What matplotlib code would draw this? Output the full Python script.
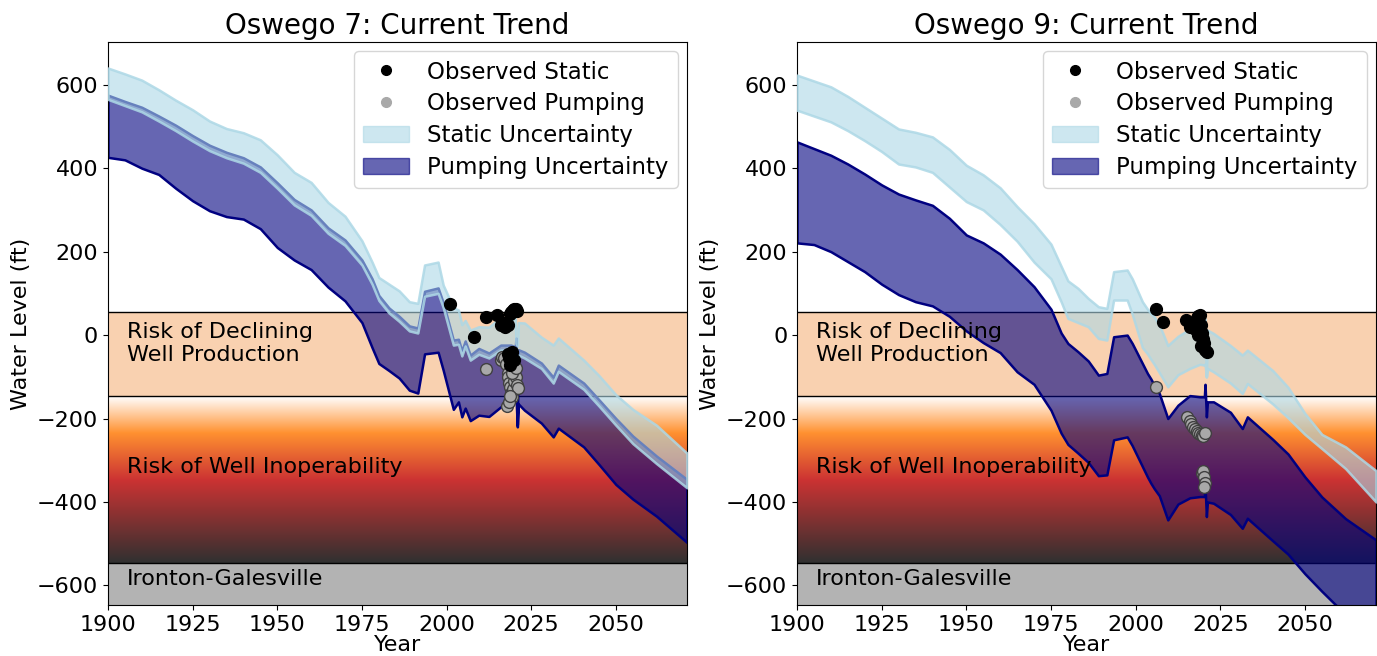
import numpy as np
import matplotlib
matplotlib.use("Agg")
import matplotlib.pyplot as plt
from matplotlib.colors import LinearSegmentedColormap
from matplotlib.lines import Line2D
from matplotlib.patches import Patch

# shared model years
years = [1900, 1905, 1910, 1915, 1920, 1925, 1930, 1935, 1940, 1945, 1950, 1955,
         1960, 1965, 1970, 1975, 1978, 1980, 1983, 1986, 1989, 1991.5, 1993.5,
         1997.5, 1999, 2002, 2003.5, 2004.5, 2005.5, 2007, 2009.5, 2012.5, 2016,
         2019, 2020.3, 2020.5, 2020.9, 2021.2, 2023, 2028, 2031.5, 2033, 2040.5,
         2045, 2050, 2055, 2062, 2071]

# Oswego 7
o7_static_hi = [640, 626, 611, 588, 563, 540, 513, 495, 485, 468, 432, 390,
                366, 318, 285, 226, 175, 138, 122, 106, 80, 76, 168,
                175, 120, 66, 60, 25, 35, 12, 20, 19, 43,
                36, 40, -20, -25, 30, 29, -5, -24, -7, -60,
                -97, -143, -178, -216, -283]
o7_static_lo = [565, 550, 535, 513, 490, 465, 442, 425, 412, 390, 352, 312,
                287, 244, 215, 168, 122, 83, 53, 33, 10, 5, 93,
                100, 66, -24, -22, -50, -26, -60, -46, -55, -36,
                -36, -40, -80, -80, -48, -55, -80, -115, -87, -130,
                -170, -216, -260, -308, -366]
o7_pump_hi = [575, 560, 546, 525, 503, 478, 455, 438, 425, 403, 365, 325,
              300, 257, 228, 180, 135, 95, 65, 45, 22, 17, 105,
              113, 78, -12, -10, -38, -14, -48, -32, -43, -24,
              -24, -28, -7, -215, -35, -41, -67, -101, -72, -115,
              -155, -200, -242, -290, -346]
o7_pump_lo = [426, 420, 400, 385, 352, 322, 298, 284, 278, 255, 210, 180,
              157, 115, 82, 30, -30, -68, -85, -103, -132, -139, -45,
              -41, -84, -178, -160, -196, -175, -205, -192, -195, -172,
              -156, -160, -150, -220, -165, -180, -211, -244, -223, -268,
              -310, -358, -393, -434, -497]

# Oswego 9
o9_static_hi = [623, 609, 595, 572, 546, 520, 494, 486, 475, 445, 407, 384,
                353, 308, 267, 218, 165, 130, 112, 88, 68, 64, 152,
                156, 135, 80, 62, 52, 44, 25, -25, -3, 15,
                36, 38, 40, -100, 12, 4, -25, -48, -36, -85,
                -125, -188, -238, -268, -325]
o9_static_lo = [539, 525, 511, 490, 466, 440, 410, 403, 390, 355, 320, 300,
                265, 225, 175, 135, 80, 40, 30, 20, -8, -12, 84,
                84, 50, -30, -45, -58, -70, -90, -124, -95, -80,
                -70, -72, -70, -100, -80, -88, -115, -140, -116, -165,
                -198, -238, -272, -320, -400]
o9_pump_hi = [463, 447, 431, 410, 386, 360, 338, 324, 311, 280, 240, 221,
              194, 157, 116, 62, 5, -20, -40, -62, -96, -92, -4,
              0, -20, -68, -92, -105, -120, -140, -200, -168, -145,
              -148, -148, -118, -196, -160, -160, -185, -224, -196, -250,
              -285, -340, -388, -440, -491]
o9_pump_lo = [221, 217, 200, 176, 152, 122, 97, 80, 70, 45, 10, -18,
              -42, -88, -118, -180, -235, -262, -283, -305, -337, -335, -251,
              -244, -265, -315, -340, -355, -368, -385, -443, -405, -390,
              -387, -387, -360, -435, -400, -403, -430, -463, -439, -493,
              -525, -572, -614, -670, -740]

# observations
o7_obs_static_yr = [2001, 2008, 2011.5, 2015, 2016, 2016.6, 2017.3, 2018, 2018.6, 2019,
                    2019.5, 2020, 2020.4, 2020.8, 2018, 2018.3, 2018.6, 2019.2, 2019.8]
o7_obs_static = [74, -5, 43, 48, 24, 30, 19, 25, 50, 55,
                 60, 62, 62, 58, -45, -55, -72, -40, -60]
o7_obs_pump_yr = [2011.5, 2016, 2016.5, 2017, 2017.5, 2018, 2018.2, 2018.5, 2018.8,
                  2019, 2019.3, 2019.6, 2020, 2020.4, 2020.8, 2021, 2017.8, 2018.3,
                  2018.6, 2019.4, 2020.6]
o7_obs_pump = [-81, -60, -52, -55, -70, -90, -101, -115, -125,
               -139, -148, -130, -110, -101, -120, -127, -170, -160,
               -145, -92, -80]

o9_obs_static_yr = [2006, 2008, 2015, 2016, 2017, 2017.5, 2018, 2018.5, 2019, 2019.3,
                    2019.6, 2020, 2020.3, 2020.6, 2021, 2018.5, 2019.2]
o9_obs_static = [63, 32, 36, 20, 30, 15, 40, 45, 48, 25,
                 5, -10, -20, -35, -40, 0, -25]
o9_obs_pump_yr = [2006, 2015.3, 2016, 2016.5, 2017, 2017.5, 2018, 2018.5, 2019,
                  2019.5, 2020, 2020.5, 2019.6, 2020, 2020.3, 2020.6, 2020.3]
o9_obs_pump = [-125, -196, -205, -212, -220, -225, -230, -235, -238,
               -240, -242, -235, -330, -325, -340, -355, -365]

# risk zones (ft)
decline_top = 55
inop_top = -146
aquifer_top = -546

wells = [
    ("Oswego 7: Current Trend", o7_static_hi, o7_static_lo, o7_pump_hi, o7_pump_lo,
     o7_obs_static_yr, o7_obs_static, o7_obs_pump_yr, o7_obs_pump),
    ("Oswego 9: Current Trend", o9_static_hi, o9_static_lo, o9_pump_hi, o9_pump_lo,
     o9_obs_static_yr, o9_obs_static, o9_obs_pump_yr, o9_obs_pump),
]

xmin, xmax = 1900, 2071
ymin, ymax = -647, 702

risk_cmap = LinearSegmentedColormap.from_list(
    "risk", [(0, "white"), (0.22, "#ff9130"), (0.5, "#cc3333"), (1, "#303030")])

plt.rcParams["font.size"] = 16
fig = plt.figure(figsize=(13.77, 6.56), dpi=100)
axes = [fig.add_axes([0.0784, 0.0777, 0.4205, 0.858]),
        fig.add_axes([0.5788, 0.0777, 0.4205, 0.858])]

for ax, (title, s_hi, s_lo, p_hi, p_lo, os_x, os_y, op_x, op_y) in zip(axes, wells):
    # background zones
    ax.axhspan(inop_top, decline_top, color="#f9d1b0", zorder=0, lw=0)
    ax.axhspan(ymin, aquifer_top, color="#b3b3b3", zorder=0, lw=0)
    grad = np.linspace(0, 1, 256).reshape(-1, 1)
    ax.imshow(grad, cmap=risk_cmap, aspect="auto", origin="upper",
              extent=[xmin, xmax, aquifer_top, inop_top], zorder=0)
    for lvl in (decline_top, inop_top, aquifer_top):
        ax.axhline(lvl, color="k", lw=1, zorder=1)

    ax.fill_between(years, p_lo, p_hi, facecolor=(0, 0, 0.5, 0.6),
                    edgecolor="navy", lw=1.8, zorder=2)
    ax.fill_between(years, s_lo, s_hi, facecolor=(0.678, 0.847, 0.902, 0.6),
                    edgecolor=(0.678, 0.847, 0.902, 0.85), lw=1.8, zorder=3)

    ax.plot(os_x, os_y, "o", color="k", ms=8.5, zorder=5)
    ax.plot(op_x, op_y, "o", color="darkgrey", mec="0.25", mew=1, ms=8.5, zorder=4)

    ax.text(1905.5, -20, "Risk of Declining\nWell Production", va="center", zorder=6)
    ax.text(1905.5, -316, "Risk of Well Inoperability", va="center", zorder=6)
    ax.text(1905.5, -584, "Ironton-Galesville", va="center", zorder=6)

    handles = [
        Line2D([], [], ls="", marker="o", color="k", ms=7),
        Line2D([], [], ls="", marker="o", color="darkgrey", ms=7),
        Patch(facecolor=(0.678, 0.847, 0.902, 0.6), edgecolor=(0.678, 0.847, 0.902, 0.6)),
        Patch(facecolor=(0, 0, 0.5, 0.6), edgecolor=(0, 0, 0.5, 0.6)),
    ]
    labels = ["Observed Static", "Observed Pumping", "Static Uncertainty",
              "Pumping Uncertainty"]
    ax.legend(handles, labels, loc="upper right", fontsize=16.5,
              labelspacing=0.38, borderaxespad=0.4)

    ax.set_xlim(xmin, xmax)
    ax.set_ylim(ymin, ymax)
    ax.set_xticks([1900, 1925, 1950, 1975, 2000, 2025, 2050])
    ax.set_yticks([-600, -400, -200, 0, 200, 400, 600])
    ax.set_title(title, fontsize=20)
    ax.set_xlabel("Year", labelpad=0)
    ax.set_ylabel("Water Level (ft)")

fig.savefig("out.png", dpi=100)
